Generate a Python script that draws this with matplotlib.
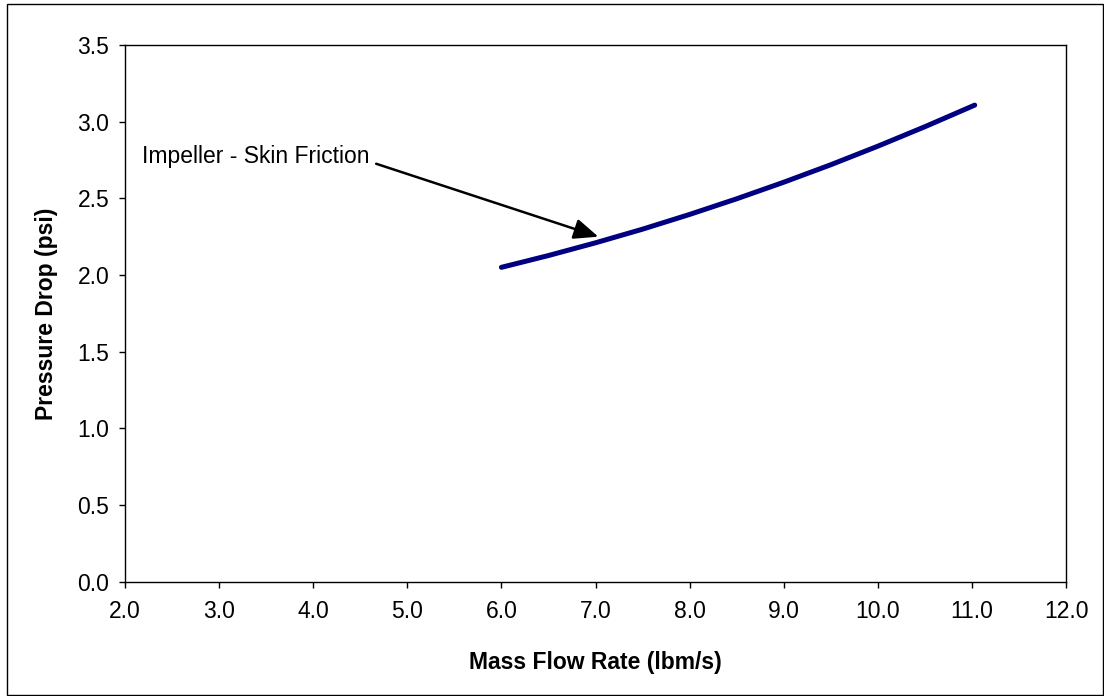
import matplotlib
matplotlib.use("Agg")
import matplotlib.pyplot as plt
from matplotlib.patches import Rectangle

plt.rcParams['font.family'] = ['Liberation Sans', 'DejaVu Sans']

# Data
mass_flow = [6.0, 6.5, 7.0, 7.5, 8.0, 8.5, 9.0, 9.5, 10.0, 10.5, 11.0, 11.03]
pressure_drop = [2.050, 2.127, 2.210, 2.299, 2.395, 2.497, 2.605, 2.719, 2.840, 2.967, 3.100, 3.108]
x_ticks = [2.0, 3.0, 4.0, 5.0, 6.0, 7.0, 8.0, 9.0, 10.0, 11.0, 12.0]
y_ticks = [0.0, 0.5, 1.0, 1.5, 2.0, 2.5, 3.0, 3.5]
annot_text = "Impeller - Skin Friction"
annot_target = (7.03, 2.25)
annot_text_pos = (2.18, 2.77)

W, H = 1104, 696
FS = 16.5
fig = plt.figure(figsize=(W / 100, H / 100), dpi=100)
fig.patch.set_facecolor('white')

# outer frame
fig.patches.append(Rectangle((7 / W, 1 - 695 / H), (1103 - 7) / W, (695 - 4) / H,
                             transform=fig.transFigure, fill=False,
                             edgecolor='black', linewidth=1.0))

ax = fig.add_axes([125 / W, 1 - 581.7 / H, (1066 - 125) / W, (581.7 - 45) / H])
ax.plot(mass_flow, pressure_drop, color='#000080', linewidth=3.6,
        solid_capstyle='round', solid_joinstyle='round')

ax.set_xlim(2.0, 12.0)
ax.set_ylim(0.0, 3.5)
ax.set_xticks(x_ticks)
ax.set_yticks(y_ticks)
ax.set_xticklabels([f"{v:.1f}" for v in x_ticks])
ax.set_yticklabels([f"{v:.1f}" for v in y_ticks])
ax.tick_params(direction='out', length=4.3, width=1, labelsize=FS,
               colors='black')
ax.tick_params(axis='x', pad=9)
ax.tick_params(axis='y', pad=7)
for s in ax.spines.values():
    s.set_color('black')
    s.set_linewidth(1.0)

ax.set_xlabel("Mass Flow Rate (lbm/s)", fontsize=FS, fontweight='bold', labelpad=20)
ax.set_ylabel("Pressure Drop (psi)", fontsize=FS, fontweight='bold', labelpad=14)

ax.annotate(annot_text, xy=annot_target, xytext=annot_text_pos,
            fontsize=FS, ha='left', va='center',
            arrowprops=dict(arrowstyle='-|>,head_length=0.9,head_width=0.38',
                            color='black', lw=1.8, shrinkA=3, shrinkB=0,
                            relpos=(1.0, 0.3)))

fig.savefig("out.png", dpi=100)
